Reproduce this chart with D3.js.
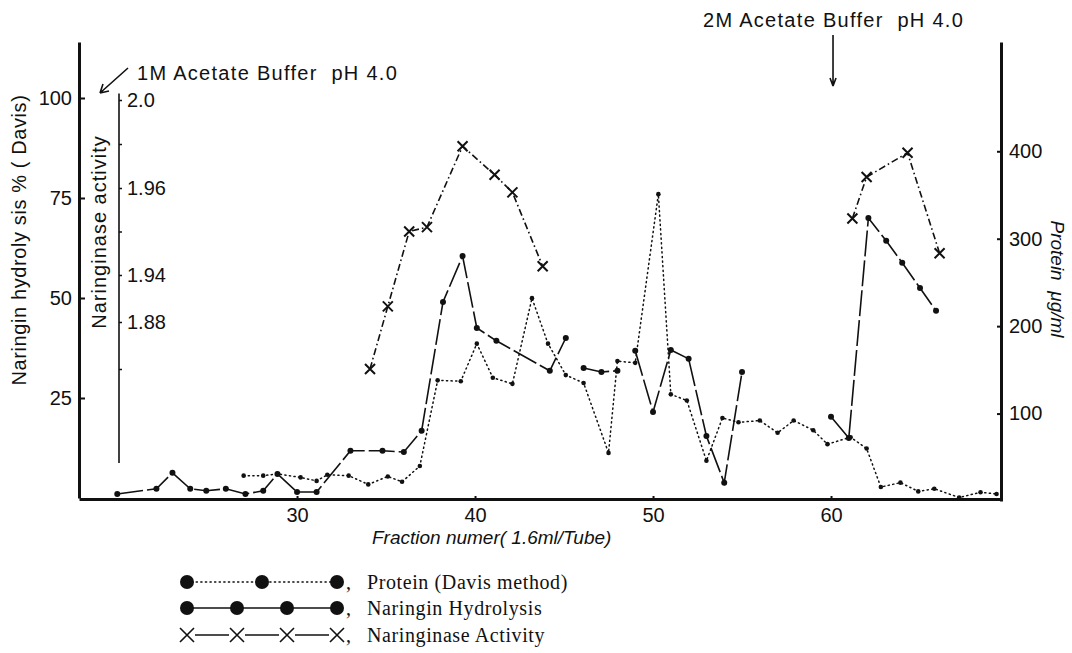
<!DOCTYPE html>
<html><head><meta charset="utf-8">
<script src="https://cdn.jsdelivr.net/npm/d3@7/dist/d3.min.js"></script>
<style>
html,body{margin:0;padding:0;background:#fff;}
svg{display:block;}
</style></head>
<body>
<svg id="chart" width="1072" height="653"></svg>
<script>
// ---------------- DATA ----------------
// Naringin hydrolysis (% , left axis); null = break in the drawn line
const hydroFractions = [19.9,22.1,23,24,24.9,26,27.1,28.1,28.9,30,31.1,33,34.8,36,37,38.2,39.3,40.1,41.2,44.2,45.1,
                        null,46.1,47.1,48,
                        null,49,50,51,52,53,54,55,
                        null,60,61,62.1,63.1,64,65,65.9];
const hydroValues    = [1.0,2.3,6.3,2.3,1.8,2.3,1.0,1.8,6.0,1.5,1.5,11.8,11.8,11.5,16.8,49,60.5,42.5,39.3,31.8,40,
                        null,32.5,31.5,31.8,
                        null,36.8,21.5,37,34.8,15.5,3.8,31.5,
                        null,20.3,15,70,64.3,58.8,52.5,46.8];
// Protein (µg/ml, right axis)
const proteinFractions = [27,28.1,28.9,30.2,31.1,31.7,32.9,34,35.1,35.9,36.9,37.9,39.2,40.1,41,42.1,43.2,44.1,45.1,46.1,
                          47.5,48,49,50.3,51,51.9,53,53.9,54.8,56,57,57.9,59,59.8,61.1,62,62.8,63.9,64.9,65.8,67.2,68.4,69.3];
const proteinValues    = [29,29,31,27,23,30,29,19,28,22,40,138,137,180,141,134,232,180,144,135,
                          55,160,158,351,122,115,46,95,90,92,78,92,81,65,73,60,16,21,11,14,4,10,8];
// Naringinase activity (inner axis units)
const activityFractions = [34.1,35.1,36.3,37.3,39.3,41.1,42.1,43.8, null, 61.2,62,64.3,66.1];
const activityValues    = [1.820,1.900,1.950,1.951,1.979,1.966,1.959,1.942, null, 1.953,1.965,1.976,1.945];

// axes / ticks
const xTicks = [30,40,50,60];
const leftTicks = [25,50,75,100];
const rightTicks = [100,200,300,400];
const activityLabelled = [2.0,1.96,1.94,1.88];
const activityLabels = ["2.0","1.96","1.94","1.88"];
const activityMinorTicks = [1.98,1.95,1.82];
const legendLabels = ["Protein (Davis method)","Naringin Hydrolysis","Naringinase Activity"];

// ---------------- DRAW ----------------
const svg = d3.select('#chart');
const ink = '#111';
const sans = '"Liberation Sans", Arial, Helvetica, sans-serif';
const serif = '"Liberation Serif", "Times New Roman", serif';

const x  = d3.scaleLinear().domain([17.75, 69.55]).range([79, 1001]);
const yL = d3.scaleLinear().domain([0, 114]).range([498, 42]);
const yR = d3.scaleLinear().domain([0, 525]).range([501, 42]);
// inner (non-uniform) activity axis, anchored to the left-axis percentages
const yA = d3.scaleLinear().domain(activityLabelled.slice().reverse())
             .range([44, 55.75, 77.5, 99.5].map(yL));

function styleAxis(g, fs){
  g.selectAll('path.domain').attr('stroke', ink).attr('stroke-width', 3);
  g.selectAll('.tick line').attr('stroke', ink).attr('stroke-width', 2);
  g.selectAll('.tick text').attr('fill', ink).attr('font-family', sans).attr('font-size', fs);
}

// left axis
const gL = svg.append('g').attr('transform','translate(79,0)')
  .call(d3.axisLeft(yL).tickValues(leftTicks).tickSizeInner(-6).tickSizeOuter(0).tickPadding(7));
styleAxis(gL, 20);

// right axis
const gR = svg.append('g').attr('transform','translate(1001,0)')
  .call(d3.axisRight(yR).tickValues(rightTicks).tickSizeInner(-4).tickSizeOuter(0).tickPadding(8));
styleAxis(gR, 20);

// bottom axis
const gB = svg.append('g').attr('transform','translate(0,499)')
  .call(d3.axisBottom(x).tickValues(xTicks).tickSizeInner(-3).tickSizeOuter(0).tickPadding(9));
styleAxis(gB, 20);

// inner activity axis
svg.append('line').attr('x1',119).attr('x2',119)
  .attr('y1', yA(1.70)).attr('y2', yA(2.003))
  .attr('stroke', ink).attr('stroke-width', 1.6);
const gA = svg.append('g').attr('transform','translate(119,0)')
  .call(d3.axisRight(yA).tickValues(activityLabelled.concat(activityMinorTicks))
        .tickFormat(d => { const i = activityLabelled.indexOf(d); return i >= 0 ? activityLabels[i] : ''; })
        .tickSizeInner(3).tickSizeOuter(0).tickPadding(5));
gA.select('path.domain').remove();
gA.selectAll('.tick line').attr('stroke', ink).attr('stroke-width', 1.5);
gA.selectAll('.tick text').attr('fill', ink).attr('font-family', sans).attr('font-size', 20);

// axis titles
svg.append('text').attr('transform','translate(26,240) rotate(-90)')
  .attr('text-anchor','middle').attr('font-family',sans).attr('font-size',20).attr('letter-spacing',0.6).attr('fill',ink)
  .attr('xml:space','preserve').text('Naringin hydroly sis % ( Davis)');
svg.append('text').attr('transform','translate(106,232) rotate(-90)')
  .attr('text-anchor','middle').attr('font-family',sans).attr('font-size',20).attr('letter-spacing',1).attr('fill',ink)
  .text('Naringinase activity');
svg.append('text').attr('transform','translate(1051,279) rotate(90)')
  .attr('text-anchor','middle').attr('font-family',sans).attr('font-size',19).attr('font-style','italic').attr('fill',ink)
  .attr('xml:space','preserve').text('Protein  μg/ml');
svg.append('text').attr('x',372).attr('y',544)
  .attr('font-family',sans).attr('font-size',19).attr('font-style','italic').attr('fill',ink)
  .text('Fraction numer( 1.6ml/Tube)');

// annotations
svg.append('text').attr('x',137).attr('y',80)
  .attr('font-family',sans).attr('font-size',20).attr('letter-spacing',1.3).attr('fill',ink)
  .attr('xml:space','preserve').text('1M Acetate Buffer  pH 4.0');
svg.append('text').attr('x',703).attr('y',27)
  .attr('font-family',sans).attr('font-size',20).attr('letter-spacing',1.3).attr('fill',ink)
  .attr('xml:space','preserve').text('2M Acetate Buffer  pH 4.0');
// arrows
svg.append('path').attr('d','M128,68 L100,93 M100,93 L103,84 M100,93 L109,91')
  .attr('stroke',ink).attr('stroke-width',1.6).attr('fill','none');
const ax = x(60) + 2;
svg.append('path').attr('d',`M${ax},35 L${ax},86 M${ax},86 L${ax-3},78 M${ax},86 L${ax+3},78`)
  .attr('stroke',ink).attr('stroke-width',1.6).attr('fill','none');

// ---------- series ----------
const hydro = hydroFractions.map((f,i)=>({f, v: hydroValues[i]}));
const prot  = proteinFractions.map((f,i)=>({f, v: proteinValues[i]}));
const act   = activityFractions.map((f,i)=>({f, v: activityValues[i]}));

// protein dotted
svg.append('path').datum(prot)
  .attr('d', d3.line().defined(d=>d.f!=null).x(d=>x(d.f)).y(d=>yR(d.v)))
  .attr('fill','none').attr('stroke',ink).attr('stroke-width',1.5)
  .attr('stroke-dasharray','1.2,3.4').attr('stroke-linecap','round');
svg.selectAll('circle.prot').data(prot).join('circle').attr('class','prot')
  .attr('cx',d=>x(d.f)).attr('cy',d=>yR(d.v)).attr('r',2.3).attr('fill',ink);

// hydrolysis
svg.append('path').datum(hydro)
  .attr('d', d3.line().defined(d=>d.f!=null).x(d=>x(d.f)).y(d=>yL(d.v)))
  .attr('fill','none').attr('stroke',ink).attr('stroke-width',1.6)
  .attr('stroke-dasharray','26,4');
svg.selectAll('circle.hyd').data(hydro.filter(d=>d.f!=null)).join('circle').attr('class','hyd')
  .attr('cx',d=>x(d.f)).attr('cy',d=>yL(d.v)).attr('r',3).attr('fill',ink);

// activity
svg.append('path').datum(act)
  .attr('d', d3.line().defined(d=>d.f!=null).x(d=>x(d.f)).y(d=>yA(d.v)))
  .attr('fill','none').attr('stroke',ink).attr('stroke-width',1.6)
  .attr('stroke-dasharray','7,3,1.6,3');
const xs = 5;
svg.selectAll('path.actx').data(act.filter(d=>d.f!=null)).join('path').attr('class','actx')
  .attr('d', d=>{ const cx=x(d.f), cy=yA(d.v);
     return `M${cx-xs},${cy-xs}L${cx+xs},${cy+xs}M${cx-xs},${cy+xs}L${cx+xs},${cy-xs}`; })
  .attr('stroke',ink).attr('stroke-width',2).attr('fill','none');

// ---------- legend ----------
const legY = [582, 608, 635];
const lx0 = 187, lx1 = 337;
// row 1: protein
svg.append('line').attr('x1',lx0).attr('x2',lx1).attr('y1',legY[0]).attr('y2',legY[0])
  .attr('stroke',ink).attr('stroke-width',1.5).attr('stroke-dasharray','1.2,3.4').attr('stroke-linecap','round');
[0,0.5,1].forEach(t=> svg.append('circle').attr('cx',lx0+(lx1-lx0)*t).attr('cy',legY[0]).attr('r',7).attr('fill',ink));
// row 2: hydrolysis
svg.append('line').attr('x1',lx0).attr('x2',lx1).attr('y1',legY[1]).attr('y2',legY[1])
  .attr('stroke',ink).attr('stroke-width',1.6);
[0,1/3,2/3,1].forEach(t=> svg.append('circle').attr('cx',lx0+(lx1-lx0)*t).attr('cy',legY[1]).attr('r',7).attr('fill',ink));
// row 3: activity
svg.append('line').attr('x1',lx0).attr('x2',lx1).attr('y1',legY[2]).attr('y2',legY[2])
  .attr('stroke',ink).attr('stroke-width',1.6);
[0,1/3,2/3,1].forEach(t=>{ const cx=lx0+(lx1-lx0)*t, cy=legY[2], s=7;
  svg.append('rect').attr('x',cx-s-1).attr('y',cy-3).attr('width',2*s+2).attr('height',6).attr('fill','#fff');
  svg.append('path').attr('d',`M${cx-s},${cy-s}L${cx+s},${cy+s}M${cx-s},${cy+s}L${cx+s},${cy-s}`)
    .attr('stroke',ink).attr('stroke-width',1.6).attr('fill','none'); });
legendLabels.forEach((t,i)=>{
  svg.append('text').attr('x',lx1+9).attr('y',legY[i]+7)
    .attr('font-family',serif).attr('font-size',20).attr('fill',ink).text(',');
  svg.append('text').attr('x',367).attr('y',legY[i]+7)
    .attr('font-family',serif).attr('font-size',20).attr('letter-spacing',0.6).attr('fill',ink).text(t);
});
</script>
</body></html>
